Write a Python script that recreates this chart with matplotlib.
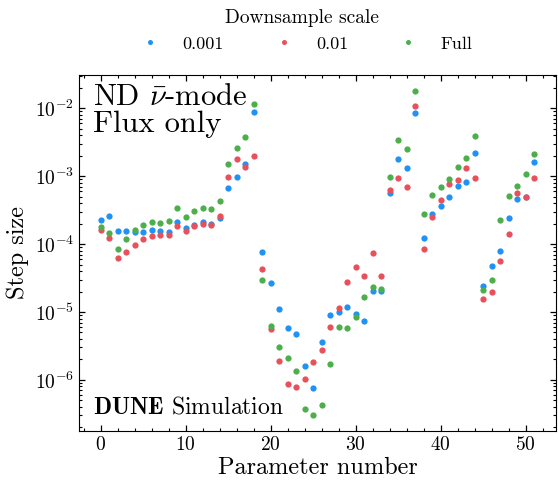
import numpy as np
import matplotlib
matplotlib.use("Agg")
import matplotlib.pyplot as plt
from matplotlib.ticker import MultipleLocator

plt.rcParams['font.family'] = 'serif'
plt.rcParams['font.serif'] = ['cmr10']
plt.rcParams['mathtext.fontset'] = 'cm'
plt.rcParams['axes.formatter.use_mathtext'] = True
plt.rcParams['axes.unicode_minus'] = False

# step sizes per parameter
step_0001 = [2.25e-4, 2.58e-4, 1.55e-4, 1.57e-4, 1.52e-4, 1.52e-4, 1.64e-4, 1.55e-4, 1.53e-4, 2.11e-4,
             1.72e-4, 1.9e-4, 2.15e-4, 2.01e-4, 2.41e-4, 6.7e-4, 9.9e-4, 1.5e-3, 8.9e-3, 7.6e-5,
             2.64e-5, 1.11e-5, 5.75e-6, 4.8e-6, 1.59e-6, 7.7e-7, 3.62e-6, 8.9e-6, 1.0e-5, 1.19e-5,
             9.35e-6, 7.3e-6, 2.01e-5, 2.02e-5, 5.75e-4, 1.78e-3, 1.34e-3, 8.5e-3, 1.24e-4, 2.79e-4,
             3.66e-4, 4.96e-4, 7.3e-4, 8.1e-4, 2.18e-3, 2.41e-5, 4.8e-5, 7.8e-5, 2.39e-4, 4.7e-4,
             4.96e-4, 1.61e-3]
step_001 = [1.64e-4, 1.25e-4, 6.15e-5, 7.7e-5, 9.7e-5, 1.2e-4, 1.31e-4, 1.34e-4, 1.37e-4, 1.84e-4,
            1.55e-4, 1.86e-4, 2.01e-4, 1.9e-4, 2.64e-4, 9.9e-4, 1.78e-3, 1.37e-3, 1.97e-3, 4.29e-5,
            5.6e-6, 1.92e-6, 8.8e-7, 7.9e-7, 1.02e-6, 1.86e-6, 2.73e-6, 6.0e-6, 1.16e-5, 2.79e-5,
            4.54e-5, 3.42e-5, 7.3e-5, 3.42e-5, 6.2e-4, 9.35e-4, 6.97e-4, 1.08e-2, 8.4e-5, 2.47e-4,
            4.43e-4, 7.6e-4, 8.8e-4, 1.33e-3, 9.45e-4, 1.55e-5, 1.95e-5, 5.6e-5, 1.39e-4, 5.6e-4,
            5.0e-4, 9.45e-4]
step_full = [1.76e-4, 1.44e-4, 8.4e-5, 1.19e-4, 1.62e-4, 1.92e-4, 2.15e-4, 2.08e-4, 2.18e-4, 3.42e-4,
             2.52e-4, 3.05e-4, 3.38e-4, 3.27e-4, 4.25e-4, 1.5e-3, 2.58e-3, 3.75e-3, 1.17e-2, 2.96e-5,
             6.2e-6, 3.09e-6, 2.13e-6, 1.36e-6, 3.7e-7, 3.05e-7, 4.25e-7, 1.7e-6, 6.0e-6, 5.8e-6,
             8.4e-6, 1.68e-5, 2.31e-5, 2.15e-5, 9.9e-4, 3.46e-3, 2.55e-3, 1.8e-2, 2.76e-4, 5.3e-4,
             6.9e-4, 9.0e-4, 1.37e-3, 1.88e-3, 3.96e-3, 2.11e-5, 2.92e-5, 2.25e-4, 5.1e-4, 7.3e-4,
             1.09e-3, 2.13e-3]

labels = ['0.001', '0.01', 'Full']
colors = ['#2092F5', '#E8515B', '#4DAE4C']
series = [step_0001, step_001, step_full]

params = np.arange(len(step_full))

fig = plt.figure(figsize=(5.58, 4.8), dpi=100)
ax = fig.add_axes([0.1416, 0.102, 0.8544, 0.742])

for vals, lab, c in zip(series, labels, colors):
    ax.plot(params, vals, 'o', ms=4.5, color=c, label=lab, mec='none')

ax.set_yscale('log')
ax.xaxis.set_major_locator(MultipleLocator(10))
ax.xaxis.set_minor_locator(MultipleLocator(2))
ax.tick_params(which='both', direction='in', top=True, right=True, labelsize=14)
ax.tick_params(which='major', length=4, width=0.9)
ax.tick_params(which='minor', length=2.2, width=0.8)

ax.set_xlabel('Parameter number', fontsize=17.5, labelpad=2)
ax.set_ylabel('Step size', fontsize=17.5, labelpad=4)

ax.text(0.03, 0.975, 'ND $\\bar{\\nu}$-mode\nFlux only', transform=ax.transAxes,
        fontsize=22, va='top', ha='left', linespacing=0.95)
ax.text(0.03, 0.035, '$\\mathbf{DUNE}$ Simulation', transform=ax.transAxes,
        fontsize=17, va='bottom', ha='left')

ax.legend(title='Downsample scale', ncol=3, loc='lower center', bbox_to_anchor=(0.468, 1.02),
          frameon=False, fontsize=13, title_fontsize=14, markerscale=0.8,
          columnspacing=2.3, handletextpad=0.8)

fig.savefig('out.png', dpi=100)
